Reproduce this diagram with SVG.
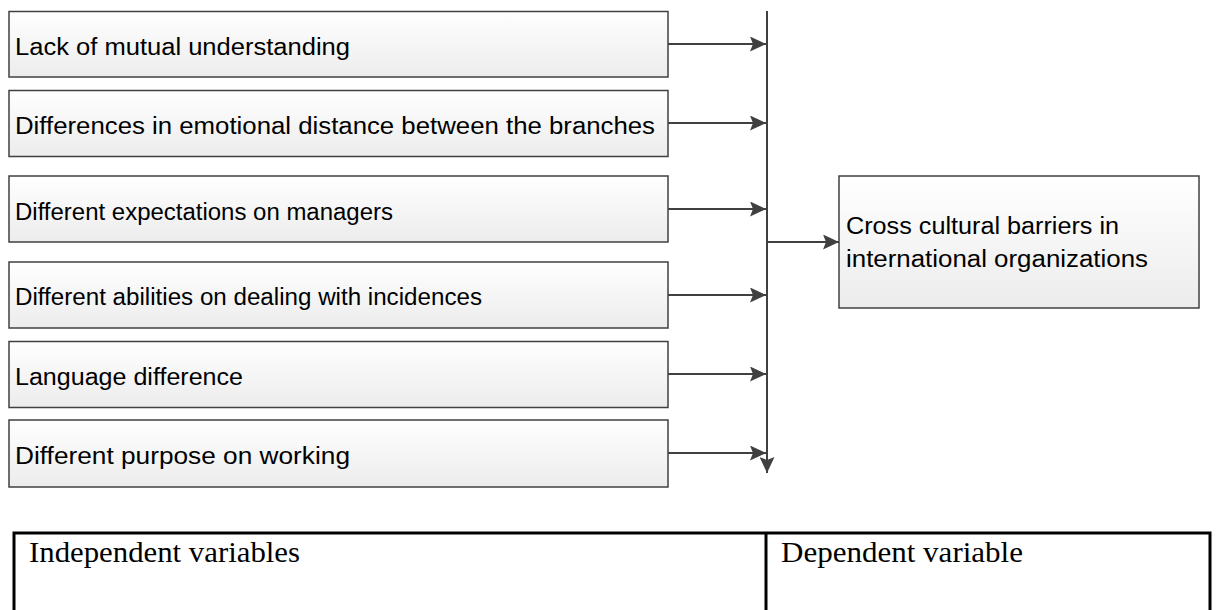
<svg xmlns="http://www.w3.org/2000/svg" width="1216" height="610" viewBox="0 0 1216 610">
<style>
.box{fill:url(#g);stroke:#404040;stroke-width:1.5}
.t{font-family:"Liberation Sans",Arial,sans-serif;font-size:23px;fill:#000}
.c{stroke:#404040;stroke-width:2;fill:none}
.tt{font-family:"Liberation Serif","Times New Roman",serif;font-size:29px;fill:#000}
.tb{fill:none;stroke:#000;stroke-width:3}
</style>
<defs>
<linearGradient id="g" x1="0" y1="0" x2="0" y2="1">
<stop offset="0" stop-color="#ffffff"/>
<stop offset="1" stop-color="#ececec"/>
</linearGradient>
<marker id="a" markerWidth="16" markerHeight="15" refX="16" refY="7.5" orient="auto" markerUnits="userSpaceOnUse">
<path d="M0,0 L16,7.5 L0,15 L3,7.5 Z" fill="#404040"/>
</marker>
</defs>
<g id="n1"><rect class="box" x="9" y="11.5" width="659" height="65.5"/><text class="t" x="15" y="55" textLength="335" lengthAdjust="spacingAndGlyphs">Lack of mutual understanding</text></g>
<g id="n2"><rect class="box" x="9" y="90.5" width="659" height="66"/><text class="t" x="15" y="134" textLength="640" lengthAdjust="spacingAndGlyphs">Differences in emotional distance between the branches</text></g>
<g id="n3"><rect class="box" x="9" y="176" width="659" height="66"/><text class="t" x="15" y="219.5" textLength="378" lengthAdjust="spacingAndGlyphs">Different expectations on managers</text></g>
<g id="n4"><rect class="box" x="9" y="262" width="659" height="66"/><text class="t" x="15" y="305" textLength="467" lengthAdjust="spacingAndGlyphs">Different abilities on dealing with incidences</text></g>
<g id="n5"><rect class="box" x="9" y="341.5" width="659" height="66"/><text class="t" x="15" y="385" textLength="228" lengthAdjust="spacingAndGlyphs">Language difference</text></g>
<g id="n6"><rect class="box" x="9" y="420" width="659" height="67"/><text class="t" x="15" y="464" textLength="335" lengthAdjust="spacingAndGlyphs">Different purpose on working</text></g>
<g id="n7"><rect class="box" x="839" y="176" width="360" height="132"/><text class="t" x="846" y="234" textLength="273" lengthAdjust="spacingAndGlyphs">Cross cultural barriers in</text><text class="t" x="846" y="267" textLength="302" lengthAdjust="spacingAndGlyphs">international organizations</text></g>
<g id="connectors">
<line class="c" x1="767" y1="11" x2="767" y2="473" marker-end="url(#a)"/>
<line class="c" x1="668" y1="44" x2="766" y2="44" marker-end="url(#a)"/>
<line class="c" x1="668" y1="123" x2="766" y2="123" marker-end="url(#a)"/>
<line class="c" x1="668" y1="209" x2="766" y2="209" marker-end="url(#a)"/>
<line class="c" x1="668" y1="295" x2="766" y2="295" marker-end="url(#a)"/>
<line class="c" x1="668" y1="374" x2="766" y2="374" marker-end="url(#a)"/>
<line class="c" x1="668" y1="453" x2="766" y2="453" marker-end="url(#a)"/>
<line class="c" x1="767" y1="242" x2="839" y2="242" marker-end="url(#a)"/>
</g>
<g id="table">
<rect class="tb" x="14" y="533" width="1196" height="90"/>
<line class="tb" x1="766" y1="533" x2="766" y2="610"/>
<text class="tt" x="29" y="562" textLength="271" lengthAdjust="spacingAndGlyphs">Independent variables</text>
<text class="tt" x="781" y="562" textLength="242" lengthAdjust="spacingAndGlyphs">Dependent variable</text>
</g>
</svg>
